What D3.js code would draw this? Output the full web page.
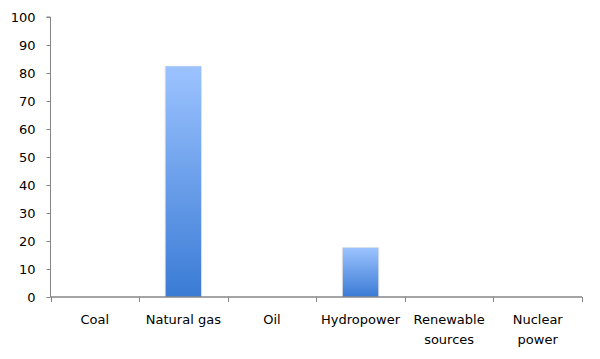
<!DOCTYPE html>
<html>
<head>
<meta charset="utf-8">
<script src="https://cdn.jsdelivr.net/npm/d3@7"></script>
<style>
  body { margin: 0; background: #fff; }
  text { font-family: "DejaVu Sans", Verdana, sans-serif; font-size: 13px; fill: #000; }
</style>
</head>
<body>
<div id="chart"></div>
<script>
const categories = ['Coal', 'Natural gas', 'Oil', 'Hydropower', 'Renewable sources', 'Nuclear power'];
const labelLines = [['Coal'], ['Natural gas'], ['Oil'], ['Hydropower'], ['Renewable', 'sources'], ['Nuclear', 'power']];
const values = [0, 82.4, 0, 17.6, 0, 0];
const yTicks = [0, 10, 20, 30, 40, 50, 60, 70, 80, 90, 100];

const W = 600, H = 359;
const M = { left: 50.5, right: 18, top: 17, bottom: 62 };
const AXIS = '#868686';

const svg = d3.select('#chart').append('svg')
  .attr('width', W)
  .attr('height', H);

const x = d3.scaleBand()
  .domain(categories)
  .range([M.left, W - M.right])
  .paddingInner(0)
  .paddingOuter(0);

const y = d3.scaleLinear()
  .domain([0, 100])
  .range([H - M.bottom, M.top]);

// bar gradient
const grad = svg.append('defs').append('linearGradient')
  .attr('id', 'barGrad')
  .attr('x1', 0).attr('y1', 0).attr('x2', 0).attr('y2', 1);
grad.append('stop').attr('offset', '0%').attr('stop-color', '#9cc3ff');
grad.append('stop').attr('offset', '100%').attr('stop-color', '#3a7bd5');

const barW = x.bandwidth() * 0.4;
const shown = categories.filter((c, i) => values[i] > 0);
const val = d => values[categories.indexOf(d)];

// soft shadow
svg.selectAll('.shadow')
    .data(shown)
  .enter().append('rect')
    .attr('x', d => x(d) + (x.bandwidth() - barW) / 2 - 1)
    .attr('y', d => y(val(d)) - 0.5)
    .attr('width', barW + 2)
    .attr('height', d => y(0) - y(val(d)) + 0.5)
    .style('fill', '#e8e4de');

svg.selectAll('.bar')
    .data(shown)
  .enter().append('rect')
    .classed('bar', true)
    .attr('x', d => x(d) + (x.bandwidth() - barW) / 2)
    .attr('y', d => y(val(d)))
    .attr('width', barW)
    .attr('height', d => y(0) - y(val(d)))
    .style('fill', 'url(#barGrad)');

// y axis
const yAxis = svg.append('g')
  .attr('transform', `translate(${M.left},0)`)
  .call(d3.axisLeft(y).tickValues(yTicks).tickSize(4).tickPadding(11));
yAxis.select('.domain').attr('stroke', AXIS).attr('d', `M-4,${y(100)}H0V${y(0)}`);
yAxis.selectAll('.tick line').attr('stroke', AXIS);
yAxis.selectAll('.tick text').attr('font-size', null).attr('font-family', null);

// x axis
const xAxis = svg.append('g')
  .attr('transform', `translate(0,${y(0)})`);
xAxis.append('line')
  .attr('x1', M.left).attr('x2', W - M.right)
  .attr('stroke', AXIS).attr('stroke-width', 1.5);
const bounds = categories.map(c => x(c)).concat([x(categories[categories.length - 1]) + x.bandwidth()]);
xAxis.selectAll('.xtick')
    .data(bounds)
  .enter().append('line')
    .attr('x1', d => Math.round(d) + 0.5).attr('x2', d => Math.round(d) + 0.5)
    .attr('y1', 0).attr('y2', 5)
    .attr('stroke', AXIS);

xAxis.selectAll('.xlabel')
    .data(categories)
  .enter().append('text')
    .attr('text-anchor', 'middle')
    .attr('x', d => x(d) + x.bandwidth() / 2)
    .attr('y', 27)
    .each(function(d, i) {
      const t = d3.select(this);
      labelLines[i].forEach((ln, j) => {
        t.append('tspan')
          .attr('x', x(d) + x.bandwidth() / 2)
          .attr('dy', j === 0 ? 0 : 20)
          .text(ln);
      });
    });
</script>
</body>
</html>
